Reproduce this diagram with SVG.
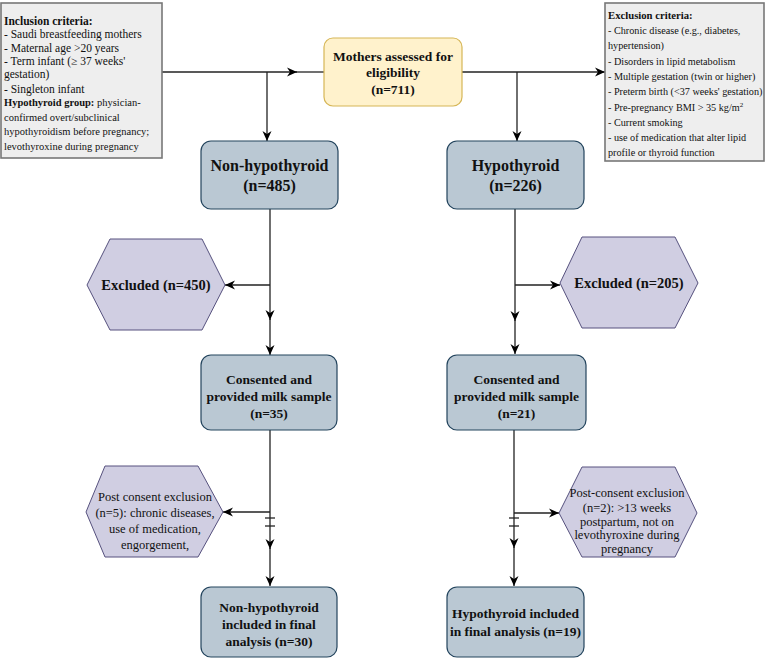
<svg xmlns="http://www.w3.org/2000/svg" width="767" height="660" viewBox="0 0 767 660">
<defs>
<marker id="arr" markerUnits="userSpaceOnUse" markerWidth="11" markerHeight="10" refX="10" refY="5" orient="auto">
<path d="M0,0.5 L10,5 L0,9.5 L3,5 z" fill="#000"/>
</marker>
</defs>
<style>
.t{font-family:"Liberation Serif","Times New Roman",serif;fill:#111}
.b{font-weight:bold}
.blue{fill:#bac8d3;stroke:#23445d;stroke-width:1.2}
.hex{fill:#d0cee2;stroke:#56517e;stroke-width:1}
.gray{fill:#eeeeee;stroke:#777;stroke-width:1.6}
.ln{fill:none;stroke:#222;stroke-width:1.3}
.ar{marker-end:url(#arr)}
</style>
<rect width="767" height="660" fill="#fff"/>

<g id="connectors">
<line class="ln ar" x1="162" y1="72" x2="297" y2="72"/>
<line class="ln" x1="296" y1="72" x2="324" y2="72"/>
<line class="ln ar" x1="462" y1="72" x2="605" y2="72"/>
<line class="ln ar" x1="267" y1="72" x2="267" y2="141"/>
<line class="ln ar" x1="517" y1="72" x2="517" y2="141"/>
<line class="ln ar" x1="270" y1="209" x2="270" y2="320"/>
<line class="ln ar" x1="270" y1="319" x2="270" y2="355"/>
<line class="ln ar" x1="270" y1="285" x2="225" y2="285"/>
<line class="ln ar" x1="515" y1="209" x2="515" y2="321"/>
<line class="ln ar" x1="515" y1="320" x2="515" y2="354"/>
<line class="ln ar" x1="515" y1="285" x2="560" y2="285"/>
<line class="ln ar" x1="270" y1="430" x2="270" y2="549"/>
<line class="ln ar" x1="270" y1="548" x2="270" y2="586"/>
<line class="ln ar" x1="270" y1="512" x2="223" y2="512"/>
<line class="ln" x1="265" y1="518" x2="275" y2="518"/>
<line class="ln" x1="265" y1="526" x2="275" y2="526"/>
<line class="ln ar" x1="514" y1="430" x2="514" y2="548"/>
<line class="ln ar" x1="514" y1="547" x2="514" y2="586"/>
<line class="ln ar" x1="514" y1="513" x2="559" y2="513"/>
<line class="ln" x1="509" y1="518" x2="519" y2="518"/>
<line class="ln" x1="509" y1="526" x2="519" y2="526"/>
</g>

<g id="inclusion">
<rect class="gray" x="1" y="3" width="161" height="155"/>
<text class="t" font-size="11.5"><tspan class="b" x="4" y="25">Inclusion criteria:</tspan><tspan x="4" y="37.5">- Saudi breastfeeding mothers</tspan><tspan x="4" y="52">- Maternal age &gt;20 years</tspan><tspan x="4" y="65">- Term infant (≥ 37 weeks'</tspan><tspan x="4" y="78">gestation)</tspan><tspan x="4" y="92.5">- Singleton infant</tspan></text>
<text class="t" font-size="10.5"><tspan x="4" y="106"><tspan class="b">Hypothyroid group:</tspan> physician-</tspan><tspan x="4" y="121">confirmed overt/subclinical</tspan><tspan x="4" y="135">hypothyroidism before pregnancy;</tspan><tspan x="4" y="150">levothyroxine during pregnancy</tspan></text>
</g>

<g id="exclusion">
<rect class="gray" x="605" y="3" width="159" height="158"/>
<text class="t" font-size="10.2"><tspan class="b" x="608" y="18.5" font-size="10.7">Exclusion criteria:</tspan><tspan x="608" y="34">- Chronic disease (e.g., diabetes,</tspan><tspan x="608" y="49.2">hypertension)</tspan><tspan x="608" y="64.5">- Disorders in lipid metabolism</tspan><tspan x="608" y="79.7">- Multiple gestation (twin or higher)</tspan><tspan x="608" y="95">- Preterm birth (&lt;37 weeks' gestation)</tspan><tspan x="608" y="110.5">- Pre-pregnancy BMI &gt; 35 kg/m</tspan><tspan dy="-4" font-size="7">2</tspan><tspan x="608" y="125.5">- Current smoking</tspan><tspan x="608" y="140.7">- use of medication that alter lipid</tspan><tspan x="608" y="156">profile or thyroid function</tspan></text>
</g>

<g id="mothers">
<rect x="324" y="38" width="138" height="68" rx="9" fill="#fff2cc" stroke="#d6b656" stroke-width="1.2"/>
<text class="t b" font-size="13.5" text-anchor="middle"><tspan x="393" y="60.5">Mothers assessed for</tspan><tspan x="393" y="77">eligibility</tspan><tspan x="393" y="94">(n=711)</tspan></text>
</g>

<g id="nonhypo">
<rect class="blue" x="201" y="141" width="137" height="68" rx="10"/>
<text class="t b" font-size="16" text-anchor="middle"><tspan x="269.5" y="170.5">Non-hypothyroid</tspan><tspan x="269.5" y="190.5">(n=485)</tspan></text>
</g>

<g id="hypo">
<rect class="blue" x="447" y="141" width="137" height="68" rx="10"/>
<text class="t b" font-size="16" text-anchor="middle"><tspan x="515.5" y="170.5">Hypothyroid</tspan><tspan x="515.5" y="190.5">(n=226)</tspan></text>
</g>

<g id="excluded-left">
<polygon class="hex" points="87,285 110,239 202,239 225,285 202,330 110,330"/>
<text class="t b" font-size="14.5" text-anchor="middle" x="156" y="290">Excluded (n=450)</text>
</g>

<g id="excluded-right">
<polygon class="hex" points="560,283 582,237 675,237 698,283 675,328 582,328"/>
<text class="t b" font-size="14.5" text-anchor="middle" x="629" y="288">Excluded (n=205)</text>
</g>

<g id="consented-left">
<rect class="blue" x="201" y="355" width="136" height="75" rx="10"/>
<text class="t b" font-size="13.5" text-anchor="middle"><tspan x="269" y="383.5">Consented and</tspan><tspan x="269" y="400.5">provided milk sample</tspan><tspan x="269" y="417.5">(n=35)</tspan></text>
</g>

<g id="consented-right">
<rect class="blue" x="447" y="355" width="139" height="75" rx="10"/>
<text class="t b" font-size="13.5" text-anchor="middle"><tspan x="516.5" y="383.5">Consented and</tspan><tspan x="516.5" y="400.5">provided milk sample</tspan><tspan x="516.5" y="417.5">(n=21)</tspan></text>
</g>

<g id="postconsent-left">
<polygon class="hex" points="86,512 105,466 198,466 223,512 198,557 105,557"/>
<text class="t" font-size="12.5" text-anchor="middle"><tspan x="155" y="501">Post consent exclusion</tspan><tspan x="155" y="517">(n=5): chronic diseases,</tspan><tspan x="155" y="532.5">use of medication,</tspan><tspan x="155" y="549">engorgement,</tspan></text>
</g>

<g id="postconsent-right">
<polygon class="hex" points="559,513 582,467 675,467 697,513 675,557 582,557"/>
<text class="t" font-size="12.5" text-anchor="middle"><tspan x="627" y="497">Post-consent exclusion</tspan><tspan x="627" y="512">(n=2): &gt;13 weeks</tspan><tspan x="627" y="525.5">postpartum, not on</tspan><tspan x="627" y="539">levothyroxine during</tspan><tspan x="627" y="552.5">pregnancy</tspan></text>
</g>

<g id="final-left">
<rect class="blue" x="201" y="587" width="136" height="70" rx="10"/>
<text class="t b" font-size="13.5" text-anchor="middle"><tspan x="269" y="612">Non-hypothyroid</tspan><tspan x="269" y="629">included in final</tspan><tspan x="269" y="646">analysis (n=30)</tspan></text>
</g>

<g id="final-right">
<rect class="blue" x="447" y="587" width="137" height="70" rx="10"/>
<text class="t b" font-size="13.5" text-anchor="middle"><tspan x="515.5" y="618">Hypothyroid included</tspan><tspan x="515.5" y="635.5">in final analysis (n=19)</tspan></text>
</g>
</svg>
